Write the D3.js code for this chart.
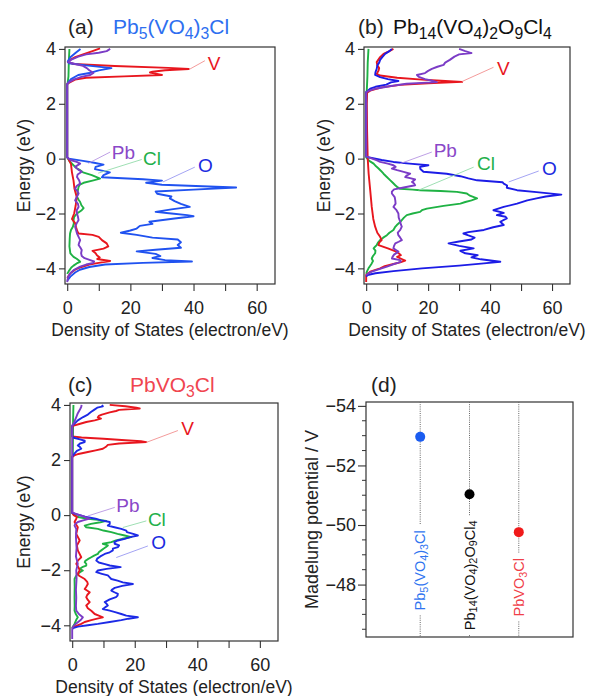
<!DOCTYPE html>
<html>
<head>
<meta charset="utf-8">
<script src="https://cdn.jsdelivr.net/npm/d3@7"></script>
<style>
  body { margin: 0; background: #fff; }
  svg { display: block; font-family: "Liberation Sans", Arial, sans-serif; }
</style>
</head>
<body>
<svg id="fig" width="589" height="696"></svg>
<script>
// ---- data: [energy (eV), density of states (electron/eV)] ----

// (a) Pb5(VO4)3Cl
const aV = [[4.02,10.4],[3.92,8],[3.8,5],[3.7,2.5],[3.62,1.2],[3.52,0.2],[3.45,2],[3.38,15],[3.31,32],[3.27,38.5],[3.22,31],[3.17,27],[3.14,26.2],[3.1,28],[3.05,30],[3.0,18],[2.95,6],[2.88,2.5],[2.78,0.8],[2.72,0],[0.05,0],[0,0.3],[-0.2,1.2],[-0.5,1.5],[-0.8,2],[-1.1,2.3],[-1.4,3],[-1.7,2.7],[-2.0,2.2],[-2.2,1.5],[-2.35,2.5],[-2.5,2.8],[-2.65,3.2],[-2.73,3.6],[-2.78,8],[-2.85,10],[-2.97,11],[-3.09,12.5],[-3.2,13],[-3.28,11.5],[-3.36,8],[-3.45,9],[-3.52,9.4],[-3.6,10.3],[-3.66,9.5],[-3.73,13.6],[-3.8,10],[-3.86,7],[-3.95,4.5],[-4.05,2.5],[-4.18,1],[-4.35,0]];
const aO = [[4.0,4.2],[3.85,2.6],[3.7,1.0],[3.55,0.2],[3.48,0.5],[3.4,6],[3.3,14],[3.22,10],[3.12,7],[3.05,3.5],[2.9,1.2],[2.78,0.3],[2.7,0],[0.05,0],[0.0,0.5],[-0.08,5],[-0.15,8.5],[-0.22,11.5],[-0.3,9],[-0.38,8.8],[-0.5,13.5],[-0.6,11.5],[-0.68,11],[-0.75,24],[-0.8,30],[-0.88,25],[-0.95,30],[-1.05,53.5],[-1.13,40],[-1.2,28],[-1.28,28.5],[-1.38,33],[-1.45,32.5],[-1.55,34],[-1.65,36],[-1.76,38.8],[-1.85,33],[-1.94,28],[-2.0,33],[-2.06,38],[-2.1,40],[-2.18,34],[-2.3,26],[-2.38,27],[-2.45,23],[-2.55,22],[-2.62,20],[-2.7,17],[-2.78,22],[-2.88,27],[-2.95,35],[-3.05,36],[-3.15,35],[-3.25,36],[-3.32,28],[-3.38,22],[-3.47,28],[-3.55,29.5],[-3.62,27],[-3.7,31],[-3.75,39.5],[-3.8,24],[-3.86,12],[-3.95,7],[-4.05,4],[-4.15,2.5],[-4.3,1],[-4.45,0]];
const aPb = [[4.0,13.6],[3.92,12.5],[3.86,10],[3.8,6],[3.72,3.5],[3.62,1.5],[3.52,0.3],[3.45,2.5],[3.38,5],[3.3,6.2],[3.22,7],[3.12,8.3],[3.05,7.3],[2.98,4.5],[2.88,2],[2.78,0.5],[2.72,0],[0.05,0],[-0.05,1],[-0.12,3],[-0.18,4.1],[-0.3,2.5],[-0.4,3.5],[-0.48,4.6],[-0.58,3.3],[-0.67,3.1],[-0.8,3.8],[-0.91,4.1],[-1.0,3],[-1.09,2.5],[-1.18,3.2],[-1.27,3.6],[-1.4,3],[-1.52,2.5],[-1.65,3.4],[-1.76,3.6],[-1.88,3.0],[-2.0,3.1],[-2.12,3.4],[-2.24,3.6],[-2.36,3],[-2.48,2.5],[-2.6,2.8],[-2.73,3.1],[-2.85,3.6],[-2.97,4.1],[-3.06,3.8],[-3.15,3.6],[-3.25,4.2],[-3.33,4.6],[-3.45,4.4],[-3.55,4.6],[-3.63,5.5],[-3.7,7.3],[-3.75,8.5],[-3.8,8.3],[-3.86,6],[-3.94,4.1],[-4.05,2.2],[-4.18,1],[-4.3,0.3],[-4.5,0]];
const aCl = [[4.0,0.7],[3.5,0.5],[3.0,0.4],[2.73,0.1],[2.7,0],[0.05,0],[-0.1,0.8],[-0.24,2],[-0.35,3],[-0.42,4.1],[-0.5,5],[-0.6,7.8],[-0.68,9.5],[-0.73,10.4],[-0.8,8],[-0.88,5.2],[-0.95,4],[-1.03,3.6],[-1.2,3.3],[-1.39,3.1],[-1.5,3.6],[-1.58,4.1],[-1.7,4.5],[-1.8,5.2],[-1.88,4.6],[-2.0,3.1],[-2.12,2.2],[-2.24,2],[-2.36,2.1],[-2.48,1.8],[-2.6,1.2],[-2.73,0.9],[-2.9,0.8],[-3.2,0.7],[-3.45,1],[-3.52,1.5],[-3.58,2],[-3.65,3],[-3.72,3.8],[-3.76,4.1],[-3.82,3],[-3.9,2],[-3.97,1.3],[-4.1,0.5],[-4.2,0]];

// (b) Pb14(VO4)2O9Cl4
const bV = [[4.0,8.8],[3.92,7.5],[3.82,5.6],[3.7,4.5],[3.52,3.4],[3.4,3.6],[3.3,4.2],[3.21,4],[3.09,3.4],[3.03,4.5],[2.95,10],[2.88,18],[2.85,22.8],[2.8,31],[2.75,20],[2.69,11],[2.6,5],[2.48,1.3],[2.4,0.3],[2.0,0.2],[1.0,0.3],[0.0,0.5],[-0.55,0.8],[-1.15,1.3],[-1.76,1.8],[-2.2,2.3],[-2.48,2.9],[-2.7,3.6],[-2.85,4.5],[-2.97,5.0],[-3.06,4.2],[-3.15,4.0],[-3.27,7],[-3.38,9.5],[-3.45,10.5],[-3.52,11.2],[-3.58,10],[-3.65,11.3],[-3.72,12.6],[-3.78,11],[-3.84,8.8],[-3.92,6],[-4.0,4.5],[-4.12,1.3],[-4.24,0],[-4.5,0]];
const bO = [[4.0,8.3],[3.92,7.5],[3.82,6.1],[3.7,5.2],[3.6,4.5],[3.5,4.2],[3.4,3.6],[3.27,3.4],[3.15,3.0],[3.05,2.9],[2.97,4.5],[2.9,7],[2.83,10.4],[2.78,8],[2.7,6.5],[2.62,3],[2.55,1.3],[2.45,0.3],[2.42,0],[0.08,0],[0.04,1],[-0.05,5],[-0.12,8.8],[-0.18,14],[-0.24,20.1],[-0.3,17.4],[-0.38,17.5],[-0.48,18.5],[-0.55,26],[-0.64,30.4],[-0.72,33],[-0.79,35.8],[-0.86,44],[-0.91,44.4],[-0.98,45.5],[-1.06,45.4],[-1.15,48.7],[-1.22,55],[-1.31,63],[-1.38,58],[-1.45,55],[-1.52,52],[-1.64,48.7],[-1.76,44.4],[-1.88,41.1],[-1.98,44.4],[-2.06,42.2],[-2.12,45],[-2.18,45.4],[-2.3,43.3],[-2.42,44.4],[-2.5,41],[-2.6,38],[-2.68,33],[-2.73,31.4],[-2.8,33],[-2.88,35],[-2.95,34],[-3.02,30],[-3.09,26.6],[-3.18,30],[-3.27,34.7],[-3.36,30.4],[-3.45,32],[-3.52,36],[-3.6,34],[-3.67,37],[-3.76,43.3],[-3.82,38],[-3.9,30],[-4.0,18],[-4.1,8.8],[-4.18,3],[-4.24,0.5],[-4.3,0]];
const bPb = [[4.0,30],[3.92,32],[3.85,34],[3.8,30],[3.72,28.5],[3.6,27],[3.5,25.5],[3.42,25],[3.35,23],[3.27,21.2],[3.2,20],[3.12,19],[3.05,16.4],[2.98,17],[2.9,19],[2.85,21],[2.79,22.8],[2.73,13],[2.65,8],[2.55,3],[2.47,0.8],[2.42,0],[0.08,0],[0.02,1.5],[-0.06,3.5],[-0.12,4.5],[-0.18,7],[-0.24,8.8],[-0.3,9.5],[-0.36,8.3],[-0.42,10],[-0.48,12.1],[-0.55,14.2],[-0.62,13],[-0.67,12.6],[-0.72,14.5],[-0.76,15.8],[-0.85,14.8],[-0.91,15.5],[-0.97,15.8],[-1.05,12.1],[-1.12,9],[-1.2,8.3],[-1.27,8.3],[-1.4,9.2],[-1.52,9.4],[-1.64,9.5],[-1.76,8.8],[-1.88,9.8],[-2.0,10.4],[-2.15,10.5],[-2.3,11],[-2.4,11.2],[-2.48,11.5],[-2.6,11],[-2.7,10.2],[-2.79,10.4],[-2.88,11],[-2.97,11.5],[-3.03,10.5],[-3.09,9.4],[-3.18,9],[-3.27,8.8],[-3.33,9.6],[-3.39,10.4],[-3.5,9],[-3.58,8.5],[-3.64,8.3],[-3.7,11],[-3.75,11.2],[-3.79,10.4],[-3.86,8.5],[-3.94,6.7],[-4.04,4],[-4.12,1.8],[-4.2,0.5],[-4.25,0]];
const bCl = [[4.0,0.75],[3.5,0.5],[3.0,0.4],[2.48,0.2],[2.4,0],[0.05,0],[-0.08,1],[-0.18,2.4],[-0.28,3.2],[-0.36,4],[-0.45,4.8],[-0.55,5.6],[-0.65,6.5],[-0.79,7.8],[-0.88,8.6],[-0.97,9.4],[-1.05,10.2],[-1.1,11],[-1.13,15],[-1.15,17.4],[-1.18,24],[-1.21,29.3],[-1.27,32.5],[-1.35,33.5],[-1.45,35.8],[-1.52,34],[-1.58,32],[-1.64,30.4],[-1.72,25],[-1.82,19.6],[-1.88,18],[-1.94,17.4],[-2.0,15],[-2.06,13.1],[-2.15,12.2],[-2.24,11.5],[-2.33,10.8],[-2.42,9.9],[-2.5,9.3],[-2.6,8.8],[-2.7,7.5],[-2.79,6.7],[-2.88,5.5],[-2.97,4.5],[-3.06,3.8],[-3.15,3.4],[-3.22,2.8],[-3.27,2.4],[-3.35,3],[-3.45,2.9],[-3.55,2.2],[-3.64,1.8],[-3.73,2.2],[-3.82,1.8],[-3.92,1.2],[-4.0,0.75],[-4.1,0.3],[-4.2,0]];

// (c) PbVO3Cl
const cV = [[4.0,12],[3.95,17],[3.9,20.5],[3.87,21.6],[3.82,15],[3.78,14],[3.73,12],[3.65,9.5],[3.6,8.5],[3.55,8.2],[3.5,9.2],[3.44,7.2],[3.38,4.5],[3.3,2],[3.25,0.5],[3.2,0],[2.86,0],[2.82,3],[2.77,10],[2.72,17],[2.68,22],[2.65,23.7],[2.6,15],[2.55,11.4],[2.48,10.8],[2.41,9.8],[2.35,7.5],[2.29,5],[2.22,2],[2.17,0.7],[2.1,0],[0.08,0],[0,0.5],[-0.07,1.5],[-0.13,1.3],[-0.25,0.75],[-0.44,1.8],[-0.68,1.3],[-0.92,2.4],[-1.1,1.5],[-1.28,1.8],[-1.53,2.9],[-1.65,1.8],[-1.77,1.3],[-1.9,2],[-2.0,2.4],[-2.13,1.8],[-2.2,2.2],[-2.32,4],[-2.42,4.8],[-2.5,5],[-2.6,4.5],[-2.68,4],[-2.8,5.6],[-2.9,4.8],[-2.98,4.5],[-3.08,5],[-3.16,5.6],[-3.28,4.5],[-3.38,5],[-3.47,6.1],[-3.59,7.2],[-3.65,8.5],[-3.71,9.8],[-3.76,8],[-3.81,6.1],[-3.88,4],[-3.95,2.9],[-4.02,1.3],[-4.07,0.3],[-4.12,0]];
const cO = [[4.0,9.5],[3.95,9.8],[3.9,8],[3.82,7],[3.75,6.1],[3.65,5],[3.56,3.5],[3.44,1.8],[3.32,0.75],[3.25,0],[2.86,0],[2.81,0.5],[2.75,2.5],[2.7,4],[2.65,4],[2.6,2.5],[2.53,1.8],[2.47,2.5],[2.41,2.9],[2.33,1.5],[2.23,0.7],[2.12,0],[0.08,0],[0.03,1.5],[-0.02,3],[-0.07,4.5],[-0.13,7.5],[-0.19,9.3],[-0.25,12],[-0.32,12],[-0.38,11.4],[-0.44,13.5],[-0.5,15.7],[-0.56,17.3],[-0.62,17.5],[-0.68,19.5],[-0.74,21],[-0.8,18.5],[-0.86,16.8],[-0.92,14.6],[-0.98,13.5],[-1.04,13.6],[-1.1,15],[-1.16,14.6],[-1.22,13],[-1.28,13],[-1.35,12],[-1.41,10.4],[-1.5,9],[-1.58,8],[-1.65,7.7],[-1.72,8.5],[-1.78,10.5],[-1.83,12],[-1.89,15.5],[-1.95,11],[-2.01,8.2],[-2.07,7.7],[-2.13,9.5],[-2.19,11.4],[-2.26,12],[-2.32,12.5],[-2.38,14.5],[-2.44,16.2],[-2.5,19.4],[-2.57,16],[-2.64,13.6],[-2.7,12.8],[-2.74,12.5],[-2.8,13.5],[-2.86,14.6],[-2.92,14.5],[-2.98,14],[-3.06,12],[-3.16,10.4],[-3.22,11],[-3.28,11.4],[-3.35,10.5],[-3.41,9.8],[-3.47,12],[-3.53,14],[-3.59,15.7],[-3.65,17.3],[-3.71,21],[-3.76,18],[-3.81,15.7],[-3.88,12],[-3.95,8.2],[-4.0,5],[-4.05,1.8],[-4.1,0.3],[-4.14,0]];
const cPb = [[4.0,3],[3.93,2.9],[3.86,2.6],[3.8,2.3],[3.7,1.8],[3.56,1.3],[3.45,0.9],[3.38,0.7],[3.28,0.2],[3.22,0],[0.1,0],[0.05,1],[0.0,2.4],[-0.06,4],[-0.13,5.6],[-0.19,3.5],[-0.25,1.8],[-0.32,1],[-0.38,0.75],[-0.5,1.3],[-0.8,1.2],[-1.2,1.4],[-1.5,1.2],[-1.77,1.8],[-2.0,1.3],[-2.3,1.4],[-2.7,1.2],[-3.0,1.3],[-3.3,1.2],[-3.47,1.3],[-3.6,2.2],[-3.71,3.4],[-3.8,2.8],[-3.89,1.8],[-3.98,0.8],[-4.07,0.2],[-4.15,0],[-4.5,0]];
const cCl = [[4.0,0.4],[3.5,0.3],[3.0,0.25],[2.2,0.2],[2.1,0],[0.08,0],[0.0,0.8],[-0.07,1.8],[-0.13,5],[-0.18,9],[-0.21,10.9],[-0.26,9],[-0.32,6],[-0.38,4],[-0.44,4.5],[-0.5,8.2],[-0.56,10],[-0.62,12.5],[-0.68,14.5],[-0.74,16.8],[-0.8,18.9],[-0.86,16],[-0.92,14],[-0.98,12.5],[-1.04,9.8],[-1.1,11.4],[-1.16,10.8],[-1.22,10],[-1.28,9.3],[-1.35,8.5],[-1.41,8.2],[-1.47,7],[-1.53,6.1],[-1.6,5],[-1.66,4.2],[-1.71,4],[-1.77,4.5],[-1.83,4.5],[-1.89,3.2],[-1.95,2.4],[-2.01,3.4],[-2.07,2.5],[-2.13,1.8],[-2.22,1.2],[-2.32,0.75],[-2.6,0.8],[-2.98,0.75],[-3.3,0.8],[-3.47,0.75],[-3.6,1.2],[-3.71,1.8],[-3.8,1.3],[-3.95,0.75],[-4.05,0.2],[-4.1,0]];

// (d) Madelung potential
const compounds = ["Pb_5(VO_4)_3Cl", "Pb_14(VO_4)_2O_9Cl_4", "PbVO_3Cl"];
const madelung = [-52.96, -51.03, -49.76];

// axis ticks
const energyTicks = [-4, -2, 0, 2, 4];
const dosTicks = [0, 10, 20, 30, 40, 50, 60];
const dosTickLabels = [0, 20, 40, 60];
const madelungTicks = [-54, -52, -50, -48];

// ---- drawing ----
const svg = d3.select("svg#fig");

const col = { V: "#e8161e", Pb: "#7b3cc6", Cl: "#1fb244" };
const leaderCol = { V: "#f29090", Pb: "#b795e2", Cl: "#93dbaa", O: "#9a9af2" };
const labelCol = { V: "#e8161e", Pb: "#8a48c8", Cl: "#22b04a", O: "#1a2ae0" };

// write a formula like "Pb_5(VO_4)_3Cl" with subscripts as tspans
function formula(text, str, fs) {
  const parts = str.split(/_(\d+)/);
  let down = false;
  parts.forEach(function(p, i) {
    if (p === "") return;
    const t = text.append("tspan").text(p);
    if (i % 2 === 1) {
      t.attr("font-size", fs * 0.75).attr("dy", fs * 0.26);
      down = true;
    } else if (down) {
      t.attr("dy", -fs * 0.26);
      down = false;
    }
  });
}

function drawDos(cfg) {
  const b = cfg.box;
  const x = d3.scaleLinear().domain([-0.7, 65.8]).range([b.x0, b.x1]);
  const y = d3.scaleLinear().domain([-4.57, 4.07]).range([b.y1, b.y0]);

  const g = svg.append("g");
  const clipId = "clip-" + cfg.id;
  svg.append("clipPath").attr("id", clipId)
    .append("rect").attr("x", b.x0).attr("y", b.y0)
    .attr("width", b.x1 - b.x0).attr("height", b.y1 - b.y0);

  const line = d3.line().x(d => x(d[1])).y(d => y(d[0]));
  const curves = g.append("g").attr("clip-path", "url(#" + clipId + ")");
  const series = [
    { d: cfg.Cl, c: col.Cl },
    { d: cfg.V, c: col.V },
    { d: cfg.O, c: cfg.oColor },
    { d: cfg.Pb, c: col.Pb }
  ];
  series.forEach(function(s) {
    curves.append("path").datum(s.d)
      .attr("d", line)
      .attr("fill", "none")
      .attr("stroke", s.c)
      .attr("stroke-width", 1.9)
      .attr("stroke-linejoin", "round");
  });

  // frame
  g.append("rect")
    .attr("x", b.x0).attr("y", b.y0)
    .attr("width", b.x1 - b.x0).attr("height", b.y1 - b.y0)
    .attr("fill", "none").attr("stroke", "#333").attr("stroke-width", 1.2);

  const xAxis = d3.axisBottom(x).tickValues(dosTicks).tickSize(7).tickPadding(10)
    .tickSizeOuter(0)
    .tickFormat(d => dosTickLabels.includes(d) ? d : "");
  const yAxis = d3.axisLeft(y).tickValues(energyTicks).tickSize(6).tickPadding(3)
    .tickSizeOuter(0);

  const xg = g.append("g").attr("transform", "translate(0," + b.y1 + ")").call(xAxis);
  const yg = g.append("g").attr("transform", "translate(" + b.x0 + ",0)").call(yAxis);
  [xg, yg].forEach(function(a) {
    a.select(".domain").remove();
    a.selectAll("line").attr("stroke", "#333").attr("stroke-width", 1.1);
    a.selectAll("text").attr("font-size", 18).attr("fill", "#222")
      .attr("font-family", "Liberation Sans, Arial, sans-serif");
  });

  // axis titles
  g.append("text")
    .attr("x", (b.x0 + b.x1) / 2).attr("y", b.y1 + 52)
    .attr("text-anchor", "middle").attr("font-size", 17.5).attr("fill", "#222")
    .text("Density of States (electron/eV)");
  g.append("text")
    .attr("transform", "translate(" + cfg.yTitleX + "," + (b.y0 + b.y1) / 2 + ") rotate(-90)")
    .attr("text-anchor", "middle").attr("dominant-baseline", "central")
    .attr("font-size", 17.5).attr("fill", "#222")
    .text("Energy (eV)");

  // panel title
  g.append("text").attr("x", cfg.titleX).attr("y", cfg.titleY)
    .attr("font-size", 21).attr("fill", "#222").text("(" + cfg.id + ")");
  const t = g.append("text").attr("x", cfg.nameX).attr("y", cfg.titleY)
    .attr("font-size", 21).attr("fill", cfg.nameColor);
  formula(t, cfg.name, 21);

  // species labels with leader lines
  cfg.labels.forEach(function(l) {
    g.append("line")
      .attr("x1", x(l.from[0])).attr("y1", y(l.from[1]))
      .attr("x2", x(l.to[0])).attr("y2", y(l.to[1]))
      .attr("stroke", leaderCol[l.name]).attr("stroke-width", 0.9);
    g.append("text")
      .attr("x", x(l.at[0])).attr("y", y(l.at[1]))
      .attr("dominant-baseline", "central")
      .attr("font-size", 19).attr("fill", labelCol[l.name])
      .text(l.name);
  });
}

drawDos({
  id: "a", box: { x0: 65, x1: 275, y0: 47, y1: 284 },
  V: aV, O: aO, Pb: aPb, Cl: aCl, oColor: "#2052f0",
  yTitleX: 24, titleX: 68, nameX: 113, titleY: 34,
  name: "Pb_5(VO_4)_3Cl", nameColor: "#2e6ff0",
  labels: [
    { name: "V", at: [44.5, 3.47], from: [38.9, 3.27], to: [43.6, 3.57] },
    { name: "Pb", at: [14.1, 0.24], from: [6.7, -0.17], to: [13.6, 0.24] },
    { name: "Cl", at: [24, 0.01], from: [9.8, -0.53], to: [23.6, -0.03] },
    { name: "O", at: [41.4, -0.24], from: [30.3, -0.85], to: [40.4, -0.31] }
  ]
});

drawDos({
  id: "b", box: { x0: 364, x1: 570, y0: 47, y1: 284 },
  V: bV, O: bO, Pb: bPb, Cl: bCl, oColor: "#1c1ce6",
  yTitleX: 324, titleX: 358, nameX: 393, titleY: 34,
  name: "Pb_14(VO_4)_2O_9Cl_4", nameColor: "#111",
  labels: [
    { name: "V", at: [42.2, 3.27], from: [30.9, 2.81], to: [41.1, 3.33] },
    { name: "Pb", at: [21.8, 0.30], from: [11, -0.18], to: [21.2, 0.24] },
    { name: "Cl", at: [35.8, -0.18], from: [16.9, -1.15], to: [34.7, -0.31] },
    { name: "O", at: [56.8, -0.36], from: [46, -0.85], to: [55.7, -0.45] }
  ]
});

drawDos({
  id: "c", box: { x0: 70, x1: 278, y0: 403, y1: 641 },
  V: cV, O: cO, Pb: cPb, Cl: cCl, oColor: "#1c2ae6",
  yTitleX: 24, titleX: 68, nameX: 130, titleY: 392,
  name: "PbVO_3Cl", nameColor: "#f04550",
  labels: [
    { name: "V", at: [34.9, 3.13], from: [23.7, 2.64], to: [33.8, 3.07] },
    { name: "Pb", at: [14.1, 0.34], from: [5, -0.03], to: [13.6, 0.28] },
    { name: "Cl", at: [24.2, -0.17], from: [16.2, -0.45], to: [23.7, -0.21] },
    { name: "O", at: [25.3, -0.99], from: [14.1, -1.54], to: [24.2, -1.12] }
  ]
});

// ---- (d) Madelung potential ----
(function drawMadelung() {
  const b = { x0: 366, x1: 573, y0: 402, y1: 637 };
  const dotCol = ["#1a5cf0", "#000", "#f01a1a"];
  const textCol = ["#2f74f0", "#111", "#f04048"];
  const labelMid = [-48.48, -48.31, -47.91]; // where each rotated label is centred

  const x = d3.scalePoint().domain(compounds).range([b.x0, b.x1]).padding(1.1);
  const y = d3.scaleLinear().domain([-54.13, -46.24]).range([b.y0, b.y1]);
  const g = svg.append("g");

  g.append("rect")
    .attr("x", b.x0).attr("y", b.y0)
    .attr("width", b.x1 - b.x0).attr("height", b.y1 - b.y0)
    .attr("fill", "none").attr("stroke", "#333").attr("stroke-width", 1.2);

  const yAxis = d3.axisLeft(y).tickValues(madelungTicks).tickSize(8).tickPadding(2).tickSizeOuter(0);
  const yg = g.append("g").attr("transform", "translate(" + b.x0 + ",0)").call(yAxis);
  yg.select(".domain").remove();
  yg.selectAll("line").attr("stroke", "#333").attr("stroke-width", 1.1);
  yg.selectAll("text").attr("font-size", 18).attr("fill", "#222");

  const minor = d3.range(-54, -46.4, 0.5).filter(v => !madelungTicks.includes(v));
  g.selectAll("line.minor").data(minor).join("line")
    .attr("x1", b.x0 - 4).attr("x2", b.x0)
    .attr("y1", d => y(d)).attr("y2", d => y(d))
    .attr("stroke", "#333").attr("stroke-width", 1);

  compounds.forEach(function(c, i) {
    const cx = x(c), cy = y(labelMid[i]);
    const t = g.append("text")
      .attr("transform", "translate(" + cx + "," + cy + ") rotate(-90)")
      .attr("text-anchor", "middle").attr("dominant-baseline", "central")
      .attr("font-size", 14.5).attr("fill", textCol[i]);
    formula(t, c, 14.5);
    const half = t.node().getComputedTextLength() / 2;
    [[b.y0, cy - half - 5], [cy + half + 5, b.y1]].forEach(function(seg) {
      g.append("line")
        .attr("x1", cx).attr("x2", cx).attr("y1", seg[0]).attr("y2", seg[1])
        .attr("stroke", "#666").attr("stroke-width", 1)
        .attr("stroke-dasharray", "1,1.2");
    });
  });

  g.selectAll("circle").data(madelung).join("circle")
    .attr("cx", (d, i) => x(compounds[i]))
    .attr("cy", d => y(d))
    .attr("r", 5)
    .attr("fill", (d, i) => dotCol[i]);

  g.append("text")
    .attr("transform", "translate(312," + (b.y0 + b.y1) / 2 + ") rotate(-90)")
    .attr("text-anchor", "middle").attr("dominant-baseline", "central")
    .attr("font-size", 18).attr("fill", "#222")
    .text("Madelung potential / V");

  g.append("text").attr("x", 371).attr("y", 392)
    .attr("font-size", 21).attr("fill", "#222").text("(d)");
})();
</script>
</body>
</html>
